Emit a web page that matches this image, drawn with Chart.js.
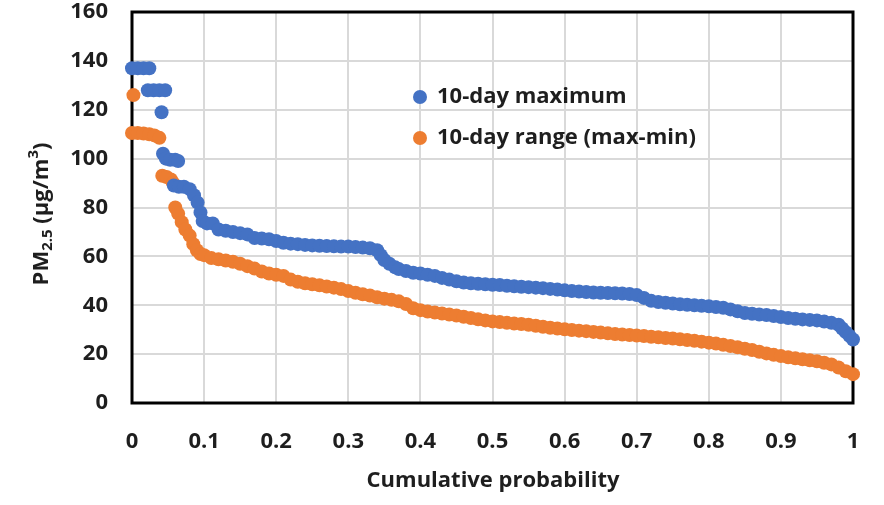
<!DOCTYPE html>
<html>
<head>
<meta charset="utf-8">
<script src="https://cdn.jsdelivr.net/npm/chart.js@4/dist/chart.umd.min.js"></script>
<style>
  html, body { margin: 0; padding: 0; background: #fff; }
  #wrap { width: 884px; height: 505px; }
</style>
</head>
<body>
<div id="wrap"><canvas id="cdfChart" width="884" height="505"></canvas></div>
<script>
// 10-day maximum (blue)
const maxProb = [0, 0.008, 0.016, 0.024, 0.022, 0.03, 0.038, 0.046, 0.041, 0.043, 0.047, 0.053, 0.06, 0.064,
  0.058, 0.065, 0.072, 0.08, 0.086, 0.091, 0.095, 0.098, 0.104, 0.112, 0.12, 0.13, 0.14, 0.15, 0.16, 0.17,
  0.18, 0.19, 0.2, 0.21, 0.22, 0.23, 0.24, 0.25, 0.26, 0.27, 0.28, 0.29, 0.3, 0.31, 0.32, 0.33, 0.34, 0.345,
  0.35, 0.357, 0.365, 0.37, 0.38, 0.39, 0.4, 0.41, 0.42, 0.43, 0.44, 0.45, 0.46, 0.47, 0.48, 0.49, 0.5, 0.51,
  0.52, 0.53, 0.54, 0.55, 0.56, 0.57, 0.58, 0.59, 0.6, 0.61, 0.62, 0.63, 0.64, 0.65, 0.66, 0.67, 0.68, 0.69,
  0.7, 0.71, 0.72, 0.73, 0.74, 0.75, 0.76, 0.77, 0.78, 0.79, 0.8, 0.81, 0.82, 0.83, 0.84, 0.85, 0.86, 0.87,
  0.88, 0.89, 0.9, 0.91, 0.92, 0.93, 0.94, 0.95, 0.96, 0.97, 0.98, 0.985, 0.99, 0.995, 1];
const maxPM = [137, 137, 137, 137, 128, 128, 128, 128, 119, 102, 100, 99.5, 99.5, 99,
  89, 88.5, 88.5, 87.5, 85, 82, 78, 74.5, 73.5, 73.5, 71, 70.5, 70, 69.5, 69, 67.5,
  67.3, 67, 66.3, 65.6, 65.2, 65, 64.7, 64.5, 64.3, 64.2, 64.1, 64, 64, 63.8, 63.6, 63.3, 62.5, 60.5,
  58.5, 57, 55.5, 54.8, 54, 53.3, 53, 52.5, 52, 51.2, 50.5, 49.8, 49.3, 49, 48.8, 48.6, 48.4, 48.3,
  48, 47.8, 47.6, 47.4, 47.2, 47, 46.7, 46.4, 46.1, 45.8, 45.6, 45.4, 45.2, 45.1, 45, 44.9, 44.8, 44.6,
  44.2, 43, 41.8, 41.3, 41, 40.7, 40.4, 40.2, 40, 39.8, 39.6, 39.3, 39, 38.3, 37.5, 36.8, 36.5, 36.2,
  36, 35.6, 35.2, 34.8, 34.5, 34.2, 34, 33.8, 33.3, 32.8, 32, 30.5, 29, 27.5, 26];

// 10-day range (orange)
const rangeProb = [0.002, 0, 0.008, 0.016, 0.024, 0.031, 0.038, 0.042, 0.048, 0.054, 0.057,
  0.06, 0.064, 0.069, 0.074, 0.08, 0.085, 0.09, 0.095, 0.1, 0.11, 0.12, 0.13, 0.14, 0.15, 0.16, 0.17,
  0.18, 0.19, 0.2, 0.21, 0.22, 0.23, 0.24, 0.25, 0.26, 0.27, 0.28, 0.29, 0.3, 0.31, 0.32, 0.33, 0.34,
  0.35, 0.36, 0.37, 0.38, 0.39, 0.4, 0.41, 0.42, 0.43, 0.44, 0.45, 0.46, 0.47, 0.48, 0.49, 0.5, 0.51,
  0.52, 0.53, 0.54, 0.55, 0.56, 0.57, 0.58, 0.59, 0.6, 0.61, 0.62, 0.63, 0.64, 0.65, 0.66, 0.67, 0.68,
  0.69, 0.7, 0.71, 0.72, 0.73, 0.74, 0.75, 0.76, 0.77, 0.78, 0.79, 0.8, 0.81, 0.82, 0.83, 0.84, 0.85,
  0.86, 0.87, 0.88, 0.89, 0.9, 0.91, 0.92, 0.93, 0.94, 0.95, 0.96, 0.97, 0.98, 0.99, 1];
const rangePM = [126, 110.5, 110.5, 110.3, 110, 109.5, 108.5, 93, 92.5, 91.5, 90,
  80, 77.5, 74, 71, 68.5, 65, 62.5, 61, 60.5, 59.3, 58.8, 58.3, 57.8, 57, 56, 55,
  53.8, 53, 52.5, 52, 50.5, 49.6, 49, 48.6, 48.2, 47.7, 47.2, 46.6, 45.8, 45.1, 44.5, 44, 43.3,
  42.7, 42.2, 41.6, 40.5, 38.8, 38, 37.4, 37, 36.6, 36.2, 35.8, 35.3, 34.8, 34.3, 33.8, 33.4, 33.1,
  32.8, 32.5, 32.3, 32, 31.6, 31.2, 30.8, 30.5, 30.2, 29.9, 29.6, 29.4, 29.1, 28.8, 28.5, 28.2, 28,
  27.8, 27.6, 27.4, 27.1, 26.9, 26.6, 26.4, 26.1, 25.8, 25.5, 25.1, 24.7, 24.3, 23.8, 23.3, 22.8, 22.2,
  21.7, 21, 20.3, 19.7, 19.2, 18.7, 18.3, 17.9, 17.5, 17.1, 16.5, 15.8, 14.5, 13, 11.8];

const seriesLabels = ['10-day maximum', '10-day range (max-min)'];
const xTitle = 'Cumulative probability';

const BLUE = '#4472C4';
const ORANGE = '#ED7D31';
const TEXT = '#1e1e1e';
const FONT = "'Open Sans', 'DejaVu Sans', sans-serif";
const FS = 22;

function toPoints(xs, ys) {
  return xs.map((x, i) => ({ x: x, y: ys[i] }));
}

// frame around the plot area, under the points
const framePlugin = {
  id: 'frame',
  beforeDatasetsDraw(chart) {
    const { ctx, chartArea: a } = chart;
    ctx.save();
    ctx.strokeStyle = '#000';
    ctx.lineWidth = 3;
    ctx.strokeRect(a.left, a.top, a.right - a.left, a.bottom - a.top);
    ctx.restore();
  }
};

// axis titles (with sub/superscripts) and the in-plot legend
const labelPlugin = {
  id: 'labels',
  afterDraw(chart) {
    const ctx = chart.ctx;
    ctx.save();
    ctx.fillStyle = TEXT;
    ctx.textBaseline = 'middle';

    // x title
    ctx.font = `bold ${FS}px ${FONT}`;
    ctx.textAlign = 'center';
    ctx.fillText(xTitle, 493, 481);

    // y title, rotated
    const parts = [
      { t: 'PM', size: FS, dy: 0 },
      { t: '2.5', size: 15, dy: 6 },
      { t: ' (\u03BCg/m', size: FS, dy: 0 },
      { t: '3', size: 15, dy: -8 },
      { t: ')', size: FS, dy: 0 }
    ];
    let total = 0;
    parts.forEach(p => {
      ctx.font = `bold ${p.size}px ${FONT}`;
      p.w = ctx.measureText(p.t).width;
      total += p.w;
    });
    ctx.translate(42, 214);
    ctx.rotate(-Math.PI / 2);
    ctx.textAlign = 'left';
    let cx = -total / 2;
    parts.forEach(p => {
      ctx.font = `bold ${p.size}px ${FONT}`;
      ctx.fillText(p.t, cx, p.dy);
      cx += p.w;
    });
    ctx.setTransform(1, 0, 0, 1, 0, 0);

    // legend
    const rows = [97, 138];
    chart.data.datasets.forEach((ds, i) => {
      ctx.beginPath();
      ctx.fillStyle = ds.backgroundColor;
      ctx.arc(420, rows[i], 7, 0, Math.PI * 2);
      ctx.fill();
      ctx.fillStyle = TEXT;
      ctx.font = `bold ${FS}px ${FONT}`;
      ctx.textAlign = 'left';
      ctx.fillText(ds.label, 437, rows[i]);
    });
    ctx.restore();
  }
};

const ctx = document.getElementById('cdfChart').getContext('2d');

const cdfChart = new Chart(ctx, {
  type: 'scatter',
  data: {
    datasets: [
      {
        label: seriesLabels[0],
        data: toPoints(maxProb, maxPM),
        backgroundColor: BLUE,
        borderColor: BLUE,
        pointRadius: 7,
        borderWidth: 0,
        clip: false
      },
      {
        label: seriesLabels[1],
        data: toPoints(rangeProb, rangePM),
        backgroundColor: ORANGE,
        borderColor: ORANGE,
        pointRadius: 7,
        borderWidth: 0,
        clip: false
      }
    ]
  },
  options: {
    responsive: false,
    animation: false,
    events: [],
    layout: { padding: { top: 12, right: 31, left: 0, bottom: 0 } },
    plugins: {
      legend: { display: false },
      tooltip: { enabled: false }
    },
    scales: {
      x: {
        type: 'linear',
        min: 0,
        max: 1,
        afterFit(scale) {
          scale.height = 102;
          scale.paddingLeft = 0;
          scale.paddingRight = 0;
        },
        ticks: {
          stepSize: 0.1,
          padding: 26,
          color: TEXT,
          font: { family: FONT, size: FS, weight: 'bold' },
          callback: v => String(Math.round(v * 10) / 10)
        },
        grid: { color: '#d9d9d9', lineWidth: 2, drawTicks: false },
        border: { display: false }
      },
      y: {
        min: 0,
        max: 160,
        afterFit(scale) {
          scale.width = 132;
          scale.paddingTop = 0;
          scale.paddingBottom = 0;
        },
        ticks: {
          stepSize: 20,
          padding: 24,
          color: TEXT,
          font: { family: FONT, size: FS, weight: 'bold' }
        },
        grid: { color: '#d9d9d9', lineWidth: 2, drawTicks: false },
        border: { display: false }
      }
    }
  },
  plugins: [framePlugin, labelPlugin]
});
</script>
</body>
</html>
